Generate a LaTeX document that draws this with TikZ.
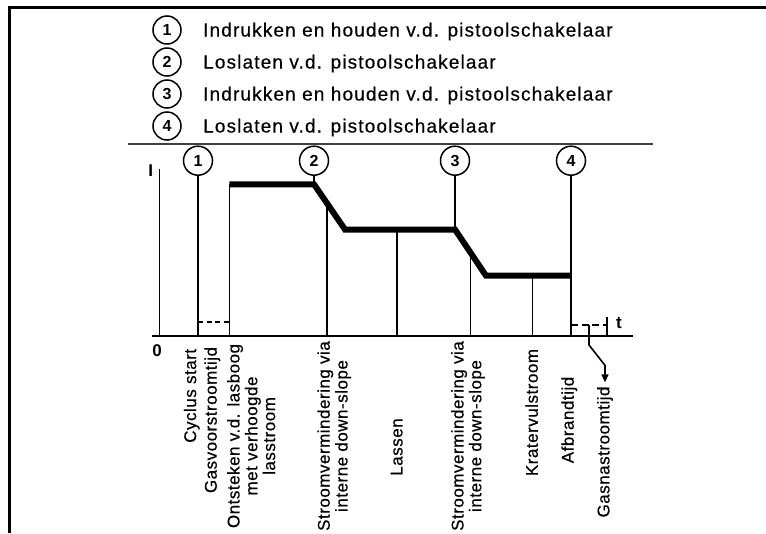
\documentclass[tikz,border=0pt]{standalone}
\usepackage{fontspec}
\setmainfont{Liberation Sans}
\newfontfamily\legfont[LetterSpace=6,FakeBold=0.4]{Liberation Sans}
\newfontfamily\lblfont[LetterSpace=3,FakeBold=0.4]{Liberation Sans}
\usetikzlibrary{arrows.meta,positioning,calc}

\tikzset{
  numcirc/.style={circle, draw, line width=1.5pt, minimum size=28pt, inner sep=0pt,
    font=\fontsize{16}{16}\selectfont\bfseries},
  legtext/.style={anchor=base west, inner sep=0pt, font=\legfont\fontsize{19}{19}\selectfont},
  thinline/.style={line width=1.6pt},
  levelline/.style={line width=6pt},
  vlabel/.style={rotate=90, align=center, inner sep=0pt,
    font=\lblfont\fontsize{17}{17.8}\selectfont},
  axlabel/.style={inner sep=0pt, font=\fontsize{17}{17}\selectfont\bfseries}
}

\begin{document}
\begin{tikzpicture}[x=1pt, y=-1pt]
        \useasboundingbox (0,0) rectangle (766,533);

        % Frame
        \draw[line width=3pt] (9.5,533) -- (9.5,7.5) -- (766,7.5);

        % Legend
        \node[numcirc] (l1) at (167,30) {1};
        \node[numcirc] (l2) at (167,62) {2};
        \node[numcirc] (l3) at (167,94) {3};
        \node[numcirc] (l4) at (167,126) {4};
        \node[legtext] (t1) at (203,36.5) {Indrukken en houden v.d. pistoolschakelaar};
        \node[legtext] (t2) at (203,68.5) {Loslaten v.d. pistoolschakelaar};
        \node[legtext] (t3) at (203,100.5) {Indrukken en houden v.d. pistoolschakelaar};
        \node[legtext] (t4) at (203,132.5) {Loslaten v.d. pistoolschakelaar};

        \draw[line width=1.4pt, black!75] (128,144) -- (653,144);

        % Trigger markers
        \node[numcirc, minimum size=29pt] (c1) at (198,160.7) {1};
        \node[numcirc, minimum size=29pt] (c2) at (314,160.7) {2};
        \node[numcirc, minimum size=29pt] (c3) at (455,160.7) {3};
        \node[numcirc, minimum size=29pt] (c4) at (571,160.7) {4};

        % Axes
        \coordinate (ytop) at (159.3,169);
        \coordinate (orig) at (159.3,336);
        \draw[thinline] (ytop) -- (orig);
        \draw[thinline] (152,336) -- (633,336);
        \node[axlabel] (ilab) at (150.7,170.5) {I};
        \node[axlabel] (zlab) at (157,350.8) {0};
        \node[axlabel, anchor=base] (tlab) at (619,328) {t};

        % Current profile
        \coordinate (p1) at (229.3,184.3);
        \coordinate (p2) at (314,184.3);
        \coordinate (p3) at (345,229.5);
        \coordinate (p4) at (455,229.5);
        \coordinate (p5) at (486,275.7);
        \coordinate (p6) at (571,275.7);
        \draw[levelline] (p1) -- (p2) -- (p3) -- (p4) -- (p5) -- (p6);

        % Vertical markers
        \coordinate (s1) at ($(p2)!0.41!(p3)$);
        \coordinate (s2) at ($(p4)!0.506!(p5)$);
        \coordinate (w1) at (396.7,229.5);
        \coordinate (k1) at (532.3,275.7);
        \draw[thinline] (c1.south) -- (c1.south |- orig);
        \draw[thinline] (c2.south) -- (p2);
        \draw[thinline] (c3.south) -- (p4);
        \draw[thinline] (c4.south) -- (c4.south |- orig);
        \draw[thinline] (p1) -- (p1 |- orig);
        \draw[thinline] (s1) -- (s1 |- orig);
        \draw[thinline] (w1) -- (w1 |- orig);
        \draw[thinline] (s2) -- (s2 |- orig);
        \draw[thinline] (k1) -- (k1 |- orig);

        % Gas pre-flow and post-flow
        \draw[thinline, dash pattern=on 5pt off 3.5pt] (198,321.7) -- (229.3,321.7);
        \draw[thinline, dash pattern=on 7pt off 3.5pt] (571,325) -- (607,325);
        \draw[thinline] (607,317) -- (607,336);
        \coordinate (gtick) at (589,325);

        % Labels
        \node[vlabel] (cyc) at (191.7,395.8) {Cyclus start};
        \node[vlabel] (gvo) at (212.3,420) {Gasvoorstroomtijd};
        \node[vlabel] (ont) at (251.2,436) {Ontsteken v.d. lasboog\\met verhoogde\\lasstroom};
        \node[vlabel] (str1) at (334.2,436) {Stroomvermindering via\\interne down-slope};
        \node[vlabel] (las) at (396.7,447) {Lassen};
        \node[vlabel] (str2) at (468,436) {Stroomvermindering via\\interne down-slope};
        \node[vlabel] (krv) at (531.7,412.5) {Kratervulstroom};
        \node[vlabel] (afb) at (569.3,420) {Afbrandtijd};
        \node[vlabel] (gna) at (605,452) {Gasnastroomtijd};

        \draw[thinline, -{Triangle[length=8pt,width=7pt]}, shorten >=4pt]
            (gtick) -- ++(0,20) -- ($(gna.east)+(0,-21)$) -- (gna.east);
\end{tikzpicture}
\end{document}
